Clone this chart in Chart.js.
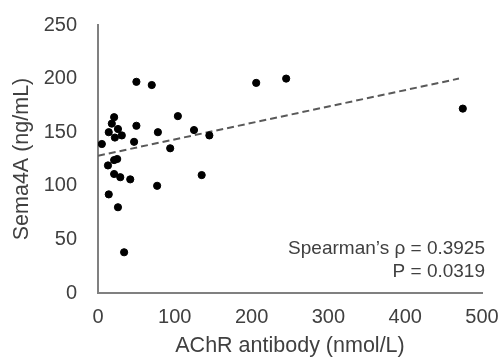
<!DOCTYPE html>
<html>
<head>
<meta charset="utf-8">
<script src="https://cdn.jsdelivr.net/npm/chart.js@4"></script>
<style>
  html, body { margin: 0; padding: 0; background: #fff; }
  #wrap { width: 501px; height: 362px; }
</style>
</head>
<body>
<div id="wrap"><canvas id="c"></canvas></div>
<script>
// AChR antibody (nmol/L) vs Sema4A (ng/mL), one point per patient
const achr  = [21, 18, 14, 26, 31, 22, 50, 47, 5, 13, 21, 25, 21, 29, 42, 14, 26, 34,
               104, 78, 125, 145, 94, 77, 135, 50, 70, 206, 245, 475]
const sema  = [164, 158, 150, 153, 147, 145, 156, 141, 139, 119, 124, 125, 111, 108, 106, 92, 80, 38,
               165, 150, 152, 147, 135, 100, 110, 197, 194, 196, 200, 172]

// regression line end points
const trendX = [0, 470]
const trendY = [128, 200]

const xTicks = [0, 100, 200, 300, 400, 500]
const yTicks = [0, 50, 100, 150, 200, 250]
const statLines = ['Spearman\u2019s \u03c1 = 0.3925', 'P = 0.0319']

const font = 'Liberation Sans, Arial, sans-serif'
const textCol = '#404040'
const axisCol = '#808080'

const points = achr.map((x, i) => ({x: x, y: sema[i]}))
const trend = trendX.map((x, i) => ({x: x, y: trendY[i]}))

const statsText = {
    id: 'statsText',
    afterDraw(chart) {
        const ctx = chart.ctx
        const xs = chart.scales.x
        const ys = chart.scales.y
        ctx.save()
        ctx.fillStyle = textCol
        ctx.font = '19px ' + font
        ctx.textAlign = 'right'
        ctx.textBaseline = 'alphabetic'
        const right = xs.getPixelForValue(500) + 3
        ctx.fillText(statLines[0], right, ys.getPixelForValue(36))
        ctx.fillText(statLines[1], right, ys.getPixelForValue(15))
        ctx.restore()
    }
}

const config = {
    type: 'scatter',
    data: {
        datasets: [
            {
                label: 'Sema4A',
                data: points,
                backgroundColor: '#000',
                borderColor: '#000',
                pointRadius: 3.6,
                pointHoverRadius: 3.6,
                order: 1,
            },
            {
                type: 'line',
                label: 'trend',
                data: trend,
                borderColor: '#595959',
                borderWidth: 2,
                borderDash: [7, 4],
                pointRadius: 0,
                fill: false,
                order: 2,
            },
        ],
    },
    options: {
        responsive: true,
        maintainAspectRatio: false,
        animation: false,
        events: [],
        layout: {padding: {top: 25, right: 19, bottom: 0, left: 0}},
        plugins: {legend: {display: false}, tooltip: {enabled: false}},
        scales: {
            x: {
                type: 'linear',
                min: 0,
                max: 500,
                afterBuildTicks: s => { s.ticks = xTicks.map(v => ({value: v})) },
                afterFit: s => { s.height = 69; s.paddingLeft = 0; s.paddingRight = 0 },
                grid: {display: false, drawTicks: false},
                border: {display: true, color: axisCol, width: 2},
                ticks: {color: textCol, font: {family: font, size: 20}, padding: 12},
                title: {display: true, text: 'AChR antibody (nmol/L)', color: textCol,
                        font: {family: font, size: 21.5}, padding: {top: 0, bottom: 3}},
            },
            y: {
                type: 'linear',
                min: 0,
                max: 250,
                afterBuildTicks: s => { s.ticks = yTicks.map(v => ({value: v})) },
                afterFit: s => { s.width = 98; s.paddingTop = 0; s.paddingBottom = 0 },
                grid: {display: false, drawTicks: false},
                border: {display: true, color: axisCol, width: 2},
                ticks: {color: textCol, font: {family: font, size: 20}, padding: 21},
                title: {display: true, text: 'Sema4A (ng/mL)', color: textCol,
                        font: {family: font, size: 21.5}, padding: {top: 9, bottom: 0}},
            },
        },
    },
    plugins: [statsText],
}

const canvas = document.getElementById('c')
const chart = new Chart(canvas, config)
</script>
</body>
</html>
